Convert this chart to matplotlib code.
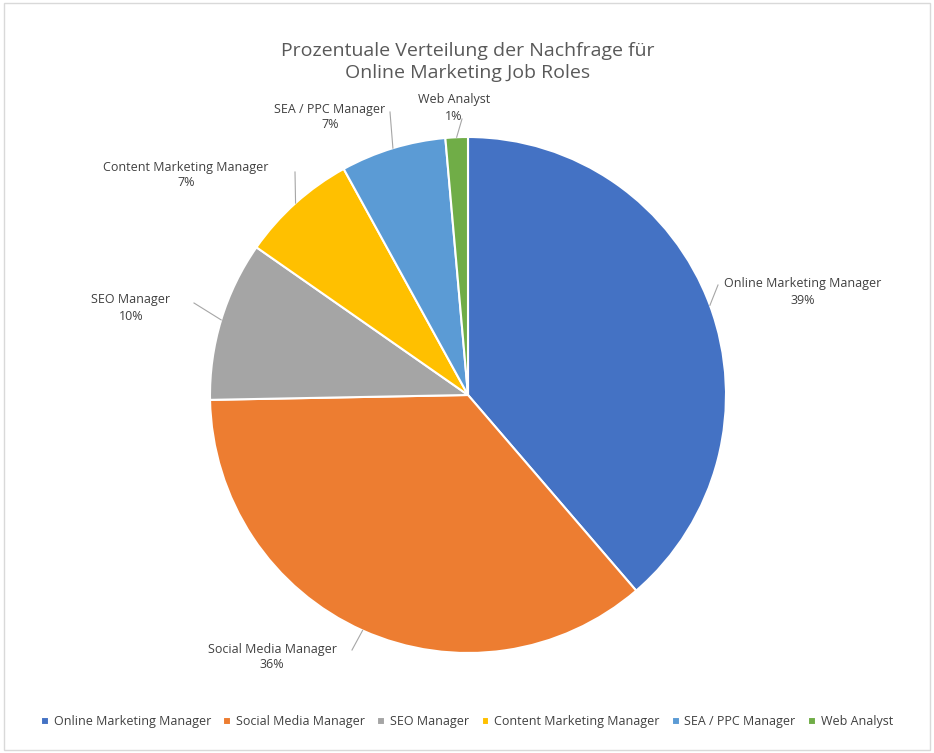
import matplotlib
matplotlib.use("Agg")
import matplotlib.pyplot as plt
import numpy as np
from matplotlib.patches import Rectangle

plt.rcParams['font.family'] = ['Open Sans', 'DejaVu Sans']

categories = ["Online Marketing Manager", "Social Media Manager", "SEO Manager",
              "Content Marketing Manager", "SEA / PPC Manager", "Web Analyst"]
values = [38.7, 36.0, 10.0, 7.3, 6.6, 1.4]
pct_labels = ["39%", "36%", "10%", "7%", "7%", "1%"]
colors = ["#4472C4", "#ED7D31", "#A5A5A5", "#FFC000", "#5B9BD5", "#70AD47"]

W, H = 934, 753
fig = plt.figure(figsize=(W/100, H/100), dpi=100)
fig.patches.append(Rectangle((0.004, 0.004), 0.992, 0.992, transform=fig.transFigure,
                             fill=False, edgecolor="#D9D9D9", lw=1))
cx, cy, r = 468, 395, 258
ax = fig.add_axes([(cx-r)/W, (H-cy-r)/H, 2*r/W, 2*r/H])
wedges, _ = ax.pie(values, colors=colors, startangle=90, counterclock=False,
                   wedgeprops=dict(edgecolor="white", linewidth=1.5))
ax.set_xlim(-1, 1); ax.set_ylim(-1, 1); ax.set_aspect('equal'); ax.axis('off')

def p(x, y):
    return ((x-cx)/r, (cy-y)/r)

text_pos = [p(803, 292), p(272, 657), p(131, 308), p(186, 175), p(330, 117), p(454, 108)]
line_end = [p(718, 285), p(352, 650), p(194, 303), p(295, 172), p(390, 112), p(462, 119)]
for w, lab, pc, tp, le in zip(wedges, categories, pct_labels, text_pos, line_end):
    ang = np.deg2rad((w.theta1 + w.theta2) / 2)
    ex, ey = np.cos(ang), np.sin(ang)
    ax.plot([ex, le[0]], [ey, le[1]], color="#A6A6A6", lw=0.8, clip_on=False)
    ax.text(tp[0], tp[1], f"{lab}\n{pc}", ha="center", va="center", fontsize=9,
            color="#404040", linespacing=1.3, clip_on=False)

fig.text(468/W, 1-62/H, "Prozentuale Verteilung der Nachfrage für\nOnline Marketing Job Roles",
         ha="center", va="center", fontsize=14, color="#595959", linespacing=1.3)

fig.legend(wedges, categories, loc="center", bbox_to_anchor=(0.5, 1-722/H), ncol=6,
           frameon=False, fontsize=9, handlelength=0.6, handleheight=0.6,
           handletextpad=0.4, columnspacing=1.0, labelcolor="#404040")
fig.savefig("out.png", dpi=100)
